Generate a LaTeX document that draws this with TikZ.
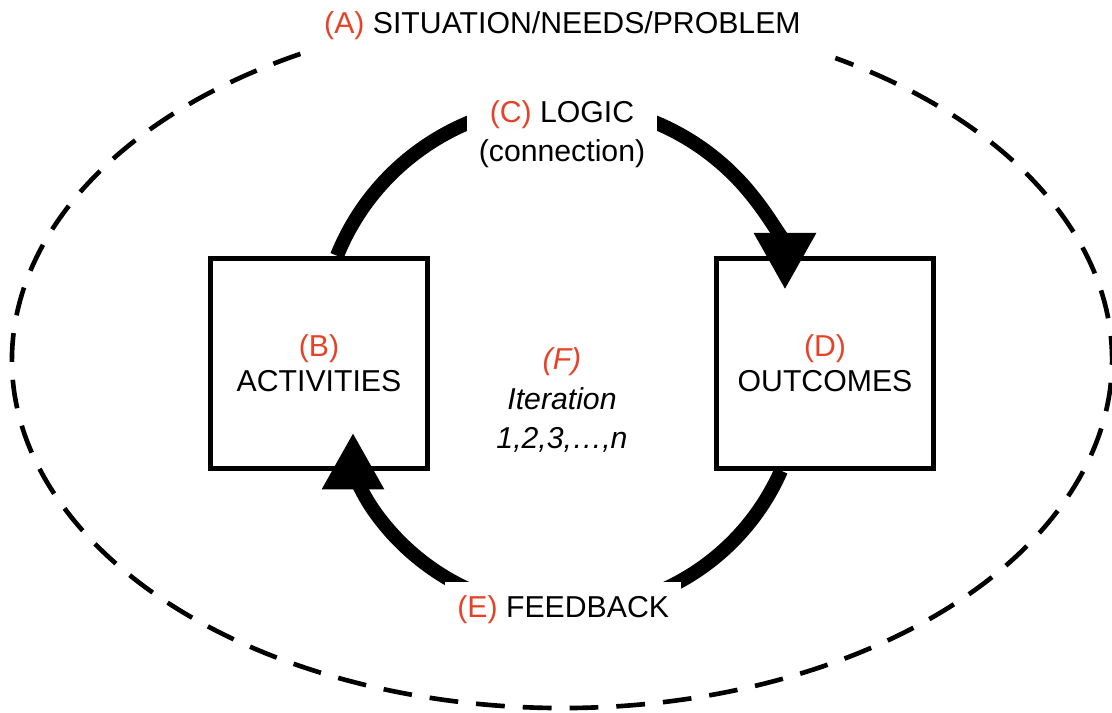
\documentclass[tikz,border=0pt]{standalone}
\usepackage{fontspec}
\setmainfont{Liberation Sans}
\usetikzlibrary{arrows.meta}
\definecolor{tagred}{RGB}{230,66,40}
\newcommand{\tagr}[1]{\textcolor{tagred}{#1}}

\begin{document}
\begin{tikzpicture}[
    font=\fontsize{21.5}{25.5}\selectfont,
    box/.style={draw, line width=3.5pt, minimum width=5.43cm, minimum height=5.25cm, align=center},
    cyc/.style={line width=10pt, -{Triangle[length=1.42cm, width=1.46cm]}},
    lbl/.style={fill=white, align=center, inner xsep=0.3cm},
    bound/.style={line width=3.3pt, dash pattern=on 0.72cm off 0.45cm}
]
\useasboundingbox (0,0) rectangle (27.8,17.8);

% outer context
\draw[bound] (14.05,8.8) ++(118.4:13.75cm and 8.7cm)
    arc[start angle=118.4, end angle=420.2, x radius=13.75cm, y radius=8.7cm];
\node (sit) at (14.06,17.17) {\tagr{(A)} SITUATION/NEEDS/PROBLEM};

\node[box] (act) at (7.975,8.72) {\tagr{(B)}\\ACTIVITIES};
\node[box] (out) at (20.625,8.72) {\tagr{(D)}\\OUTCOMES};
\node[align=center, execute at begin node=\itshape\fontsize{21.5}{28}\selectfont] (iter) at (14.05,7.8)
    {\tagr{(F)}\\Iteration\\1,2,3,…,\textit{n}};

\draw[cyc] ([xshift=0.45cm]act.north) arc[start angle=158, end angle=40, radius=6.07cm]
    to[out=-50, in=90] ([xshift=-1cm, yshift=-0.85cm]out.north);
\draw[cyc] ([xshift=-1.1cm]out.south) arc[start angle=-23.8, end angle=-145, radius=5.87cm]
    to[out=125, in=-90] ([xshift=0.85cm, yshift=0.95cm]act.south);

\node[lbl, inner ysep=0.22cm, execute at begin node=\fontsize{21.5}{27.5}\selectfont] (logic) at (14.05,14.45)
    {\tagr{(C)} LOGIC\\(connection)};
\node[lbl, inner ysep=0.33cm] (fb) at (14.08,2.57) {\tagr{(E)} FEEDBACK};
\end{tikzpicture}
\end{document}
